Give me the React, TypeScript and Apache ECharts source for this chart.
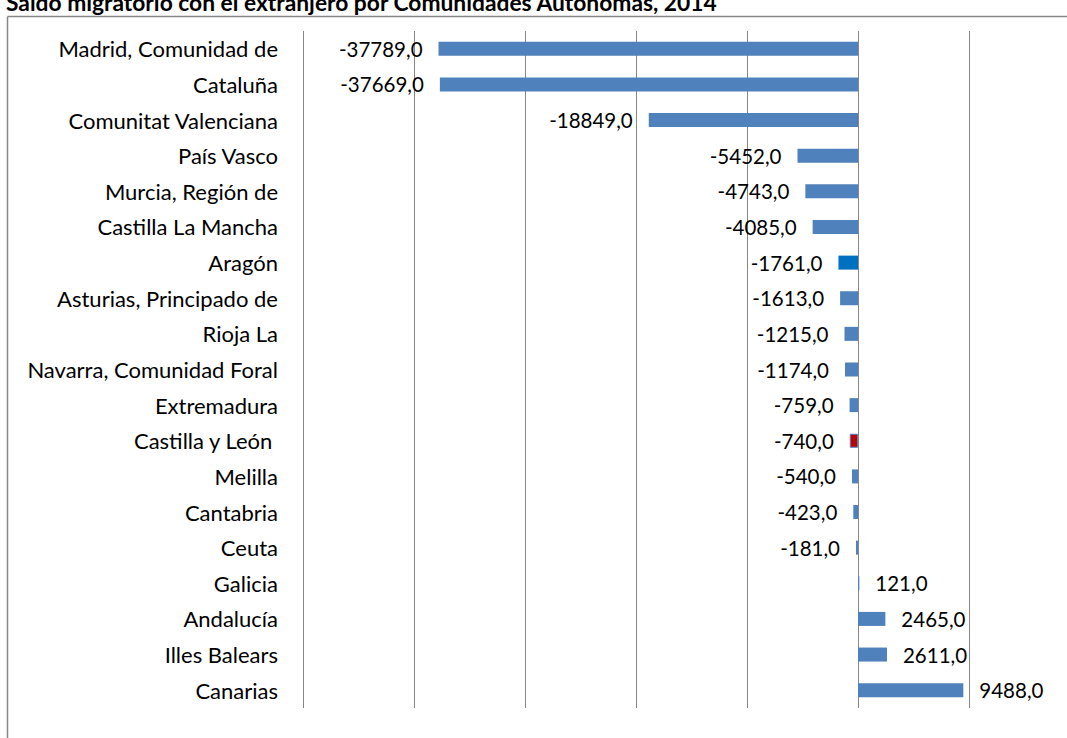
import React, { useEffect, useRef } from "react";
import * as echarts from "echarts";

const TITLE = "Saldo migratorio con el extranjero por Comunidades Autónomas, 2014";

const categories = [
  "Madrid, Comunidad de",
  "Cataluña",
  "Comunitat Valenciana",
  "País Vasco",
  "Murcia, Región de",
  "Castilla La Mancha",
  "Aragón",
  "Asturias, Principado de",
  "Rioja La",
  "Navarra, Comunidad Foral",
  "Extremadura",
  "Castilla y León ",
  "Melilla",
  "Cantabria",
  "Ceuta",
  "Galicia",
  "Andalucía",
  "Illes Balears",
  "Canarias",
];

const values = [
  -37789, -37669, -18849, -5452, -4743, -4085, -1761, -1613, -1215, -1174,
  -759, -740, -540, -423, -181, 121, 2465, 2611, 9488,
];

const FONT = "Lato";
const BAR_COLOR = "#4F81BD";
const specialColors: Record<string, string> = {
  "Aragón": "#0070C0",
  "Castilla y León ": "#C00000",
};

export default function App() {
  const ref = useRef<HTMLDivElement>(null);

  useEffect(() => {
    if (!ref.current) return;
    const chart = echarts.init(ref.current, null, { renderer: "svg" });

    const data = values.map((v, i) => {
      const cat = categories[i];
      const color = specialColors[cat] || BAR_COLOR;
      return {
        value: v,
        itemStyle: {
          color,
          borderColor: cat === "Castilla y León " ? BAR_COLOR : color,
          borderWidth: cat === "Castilla y León " ? 1 : 0,
        },
        label: { position: v < 0 ? "left" : "right" },
      };
    });

    chart.setOption({
      animation: false,
      backgroundColor: "#ffffff",
      grid: { left: 303, top: 31, width: 777, height: 677, containLabel: false },
      xAxis: {
        type: "value",
        min: -50000,
        max: 20000,
        interval: 10000,
        axisLabel: { show: false },
        axisLine: { show: false },
        axisTick: { show: false },
        splitLine: { show: true, lineStyle: { color: "#878787", width: 1 } },
      },
      yAxis: {
        type: "category",
        data: categories,
        inverse: true,
        axisLine: { show: false, onZero: false },
        axisTick: { show: false },
        splitLine: { show: false },
        axisLabel: {
          fontFamily: FONT,
          fontSize: 22,
          color: "#000000",
          margin: 25,
          align: "right",
        },
      },
      series: [
        {
          type: "bar",
          data,
          barWidth: 14,
          label: {
            show: true,
            distance: 16,
            fontFamily: FONT,
            fontSize: 20.5,
            color: "#000000",
            formatter: (p: any) => p.value.toFixed(1).replace(".", ","),
          },
        },
      ],
      graphic: [
        {
          type: "line",
          shape: { x1: 7.5, y1: 16.5, x2: 1100, y2: 16.5 },
          style: { stroke: "#888888", lineWidth: 1.5 },
          silent: true,
        },
        {
          type: "line",
          shape: { x1: 7.5, y1: 16.5, x2: 7.5, y2: 738 },
          style: { stroke: "#888888", lineWidth: 1.5 },
          silent: true,
        },
        {
          type: "text",
          x: 6,
          y: 13,
          style: {
            text: TITLE,
            fontFamily: FONT,
            fontWeight: "bold",
            fontSize: 22.8,
            fill: "#000000",
            verticalAlign: "bottom",
            align: "left",
          },
          silent: true,
        },
      ],
    });

    return () => chart.dispose();
  }, []);

  return (
    <div
      style={{
        position: "fixed",
        left: 0,
        top: 0,
        width: 1067,
        height: 738,
        overflow: "hidden",
        background: "#ffffff",
      }}
    >
      <div ref={ref} style={{ width: 1100, height: 738 }} />
    </div>
  );
}
